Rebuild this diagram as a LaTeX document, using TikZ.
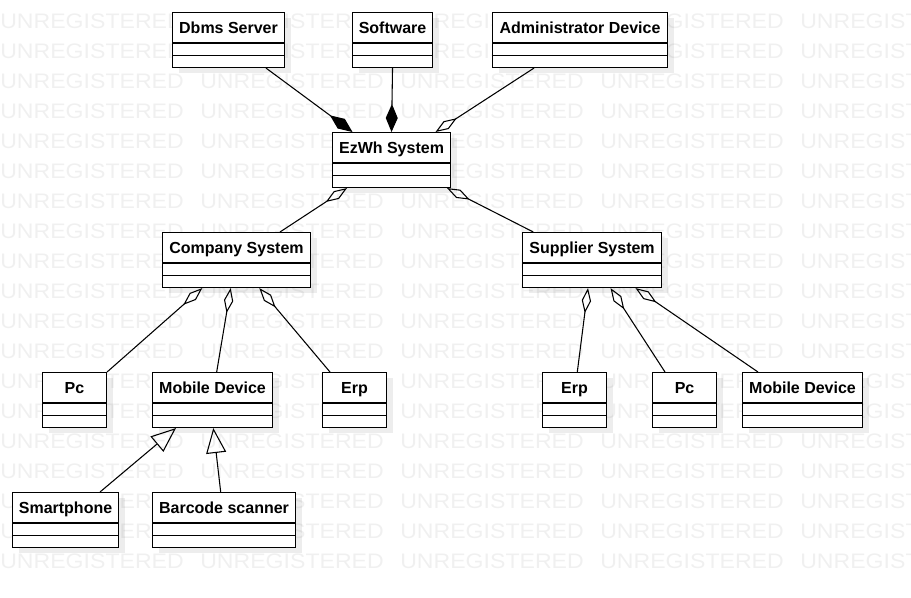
\documentclass[tikz,border=0pt]{standalone}
\usepackage{fontspec}
\setmainfont{Liberation Sans}
\usetikzlibrary{arrows.meta,calc,shadows}

\tikzset{
  umlclass/.style={draw, line width=0.8pt, fill=white, anchor=north west, inner sep=0pt,
    minimum height=41.25pt, text height=15.9pt, text depth=25.35pt,
    font=\fontsize{12}{14}\selectfont\bfseries,
    drop shadow={shadow xshift=5pt, shadow yshift=-4pt, opacity=0.07, fill=black}},
  conn/.style={line width=0.8pt},
  comp/.style={conn, -{Diamond[length=21pt, width=9pt]}},
  aggr/.style={conn, -{Diamond[open, length=19pt, width=7pt]}},
  gen/.style={conn, -{Triangle[open, length=18.75pt, width=15pt]}},
  wmark/.style={anchor=west, inner sep=0pt, text=black!6, font=\fontsize{15.75}{17}\selectfont}
}

\begin{document}
\begin{tikzpicture}[x=0.75pt,y=0.75pt,yscale=-1,xscale=1]
\useasboundingbox (0,0) rectangle (911,597);

% Watermark
\begin{scope}
\clip (0,0) rectangle (911,597);
\foreach \r in {0,...,18}
  \foreach \c in {0,...,4}
    \node[wmark] (wm-\r-\c) at (\c*200, 21.5+\r*30) {\scalebox{1.1}[1]{UNREGISTERED}};
\end{scope}

% Class Node
\node[umlclass, minimum width=84pt] (dbms) at (172,12) {Dbms Server};
% Class Node
\node[umlclass, minimum width=60pt] (soft) at (352,12) {Software};
% Class Node
\node[umlclass, minimum width=131.25pt] (admin) at (492,12) {Administrator Device};
% Class Node
\node[umlclass, minimum width=88.5pt] (ezwh) at (332,132) {EzWh System};
% Class Node
\node[umlclass, minimum width=111pt] (company) at (162,232) {Company System};
% Class Node
\node[umlclass, minimum width=104.25pt] (supplier) at (522,232) {Supplier System};
% Class Node
\node[umlclass, minimum width=48pt] (pcA) at (42,372) {Pc};
% Class Node
\node[umlclass, minimum width=90pt] (mobA) at (152,372) {Mobile Device};
% Class Node
\node[umlclass, minimum width=48pt] (erpA) at (322,372) {Erp};
% Class Node
\node[umlclass, minimum width=48pt] (erpB) at (542,372) {Erp};
% Class Node
\node[umlclass, minimum width=48pt] (pcB) at (652,372) {Pc};
% Class Node
\node[umlclass, minimum width=90pt] (mobB) at (742,372) {Mobile Device};
% Class Node
\node[umlclass, minimum width=79.5pt] (smart) at (12,492) {Smartphone};
% Class Node
\node[umlclass, minimum width=107.25pt] (barcode) at (152,492) {Barcode scanner};

% Compartments
\foreach \n in {dbms,soft,admin,ezwh,company,supplier,pcA,mobA,erpA,erpB,pcB,mobB,smart,barcode}{
  \draw[conn] ($(\n.north west)+(0,31)$) -- ($(\n.north east)+(0,31)$);
  \draw[conn] ($(\n.north west)+(0,43.5)$) -- ($(\n.north east)+(0,43.5)$);
}

% Connection
\draw[comp] ($(dbms.south west)+(94,0)$) -- ($(ezwh.north west)+(20.5,0)$);
% Connection
\draw[comp] (soft.south) -- (ezwh.north);
% Connection
\draw[aggr] ($(admin.south west)+(42,0)$) -- ($(ezwh.north west)+(103.5,0)$);
% Connection
\draw[aggr] ($(company.north west)+(118,0)$) -- ($(ezwh.south west)+(15,0)$);
% Connection
\draw[aggr] ($(supplier.north west)+(11.3,0)$) -- ($(ezwh.south west)+(115,0)$);
% Connection
\draw[aggr] (pcA.north east) -- ($(company.south west)+(40.3,0)$);
% Connection
\draw[aggr] ($(mobA.north west)+(64.7,0)$) -- ($(company.south west)+(68.7,0)$);
% Connection
\draw[aggr] ($(erpA.north west)+(8,0)$) -- ($(company.south west)+(97.3,0)$);
% Connection
\draw[aggr] ($(erpB.north west)+(35.3,0)$) -- ($(supplier.south west)+(66,0)$);
% Connection
\draw[aggr] ($(pcB.north west)+(13,0)$) -- ($(supplier.south west)+(88.5,0)$);
% Connection
\draw[aggr] ($(mobB.north west)+(16,0)$) -- ($(supplier.south west)+(113.5,0)$);
% Connection
\draw[gen] ($(smart.north west)+(88,0)$) -- ($(mobA.south west)+(24,0)$);
% Connection
\draw[gen] ($(barcode.north west)+(68.7,0)$) -- ($(mobA.south west)+(61.3,0)$);

\end{tikzpicture}
\end{document}
